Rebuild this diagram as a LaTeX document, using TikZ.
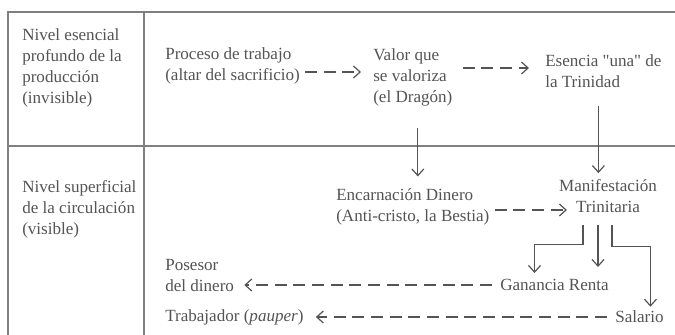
\documentclass[tikz,border=0pt]{standalone}
\usepackage{fontspec}
\setmainfont{Liberation Serif}
\usepackage{xcolor}
\usetikzlibrary{calc,arrows.meta}
\definecolor{inkgray}{gray}{0.33}
\definecolor{rulegray}{gray}{0.5}

\begin{document}
\begin{tikzpicture}[x=0.75pt,y=-0.75pt,
  txt/.style={anchor=west, inner sep=0pt, align=left, text=inkgray, font=\fontsize{12.8}{15.75}\selectfont},
  rule/.style={rulegray, line width=1pt},
  dasharrow/.style={inkgray, line width=0.9pt, dash pattern=on 9pt off 5pt, -{Straight Barb[length=5pt,width=9pt]}},
  solidarrow/.style={inkgray, line width=0.9pt, -{Straight Barb[length=5pt,width=9pt]}}]
  \useasboundingbox (0,0) rectangle (675,335);
  \draw[rule] (8,335) -- (8,12) -- (675,12);
  \draw[rule] (144,12) -- (144,335);
  \draw[rule] (8,146) -- (675,146);
  \node[txt] (esencialniv) at (22,68) {Nivel esencial\\profundo de la\\producción\\(invisible)};
  \node[txt] (superfniv) at (22,209) {Nivel superficial\\de la circulación\\(visible)};
  \node[txt] (proceso) at (165,66) {Proceso de trabajo\\(altar del sacrificio)};
  \node[txt] (valor) at (373,77) {Valor que\\se valoriza\\(el Dragón)};
  \node[txt] (esencia) at (545,71) {Esencia \textquotedbl una\textquotedbl{} de\\la Trinidad};
  \node[txt] (encarnacion) at (336,207) {Encarnación Dinero\\(Anti-cristo, la Bestia)};
  \node[txt, anchor=center, align=center] (manif) at (608,196) {Manifestación\\Trinitaria};
  \node[txt] (ganancia) at (500,285) {Ganancia Renta};
  \node[txt] (salario) at (615,317) {Salario};
  \node[txt] (posesor) at (165,275) {Posesor\\del dinero};
  \node[txt] (trabajador) at (165,317) {Trabajador (\textit{pauper})};
  \coordinate (dragfoot) at ($(valor.south)+(5,22)$);
  \coordinate (trinhead) at ($(esencia.south)+(-5,18)$);
  \coordinate (brleft) at ($(manif.south)+(-25,12)$);
  \coordinate (brmid) at ($(manif.south)+(-10,12)$);
  \coordinate (brright) at ($(manif.south)+(4,12)$);
  \draw[dasharrow] ($(proceso.east)+(5,6)$) -- ($(valor.west)+(-12,-5)$);
  \draw[dasharrow] ($(valor.east)+(10,-9)$) -- ($(esencia.west)+(-16,-3)$);
  \draw[solidarrow] (dragfoot) -- ($(dragfoot |- encarnacion.north)+(0,-12)$);
  \draw[solidarrow] (trinhead) -- ($(trinhead |- manif.north)+(0,-6)$);
  \draw[dasharrow] ($(encarnacion.east)+(5,3)$) -- ($(manif.west)+(8,14)$);
  \draw[solidarrow] (brleft) -- ++(0,20) -| ($(ganancia.north)+(-20,-6)$);
  \draw[solidarrow] (brmid) -- ($(brmid |- ganancia.north)+(0,-12)$);
  \draw[solidarrow] (brright) -- ++(0,22) -| ($(salario.north)+(11,-4)$);
  \draw[dasharrow] ($(ganancia.west)+(-8,0)$) -- ($(posesor.east)+(10,10)$);
  \draw[dasharrow] ($(salario.west)+(-8,0)$) -- ($(trabajador.east)+(12,0)$);
\end{tikzpicture}
\end{document}
